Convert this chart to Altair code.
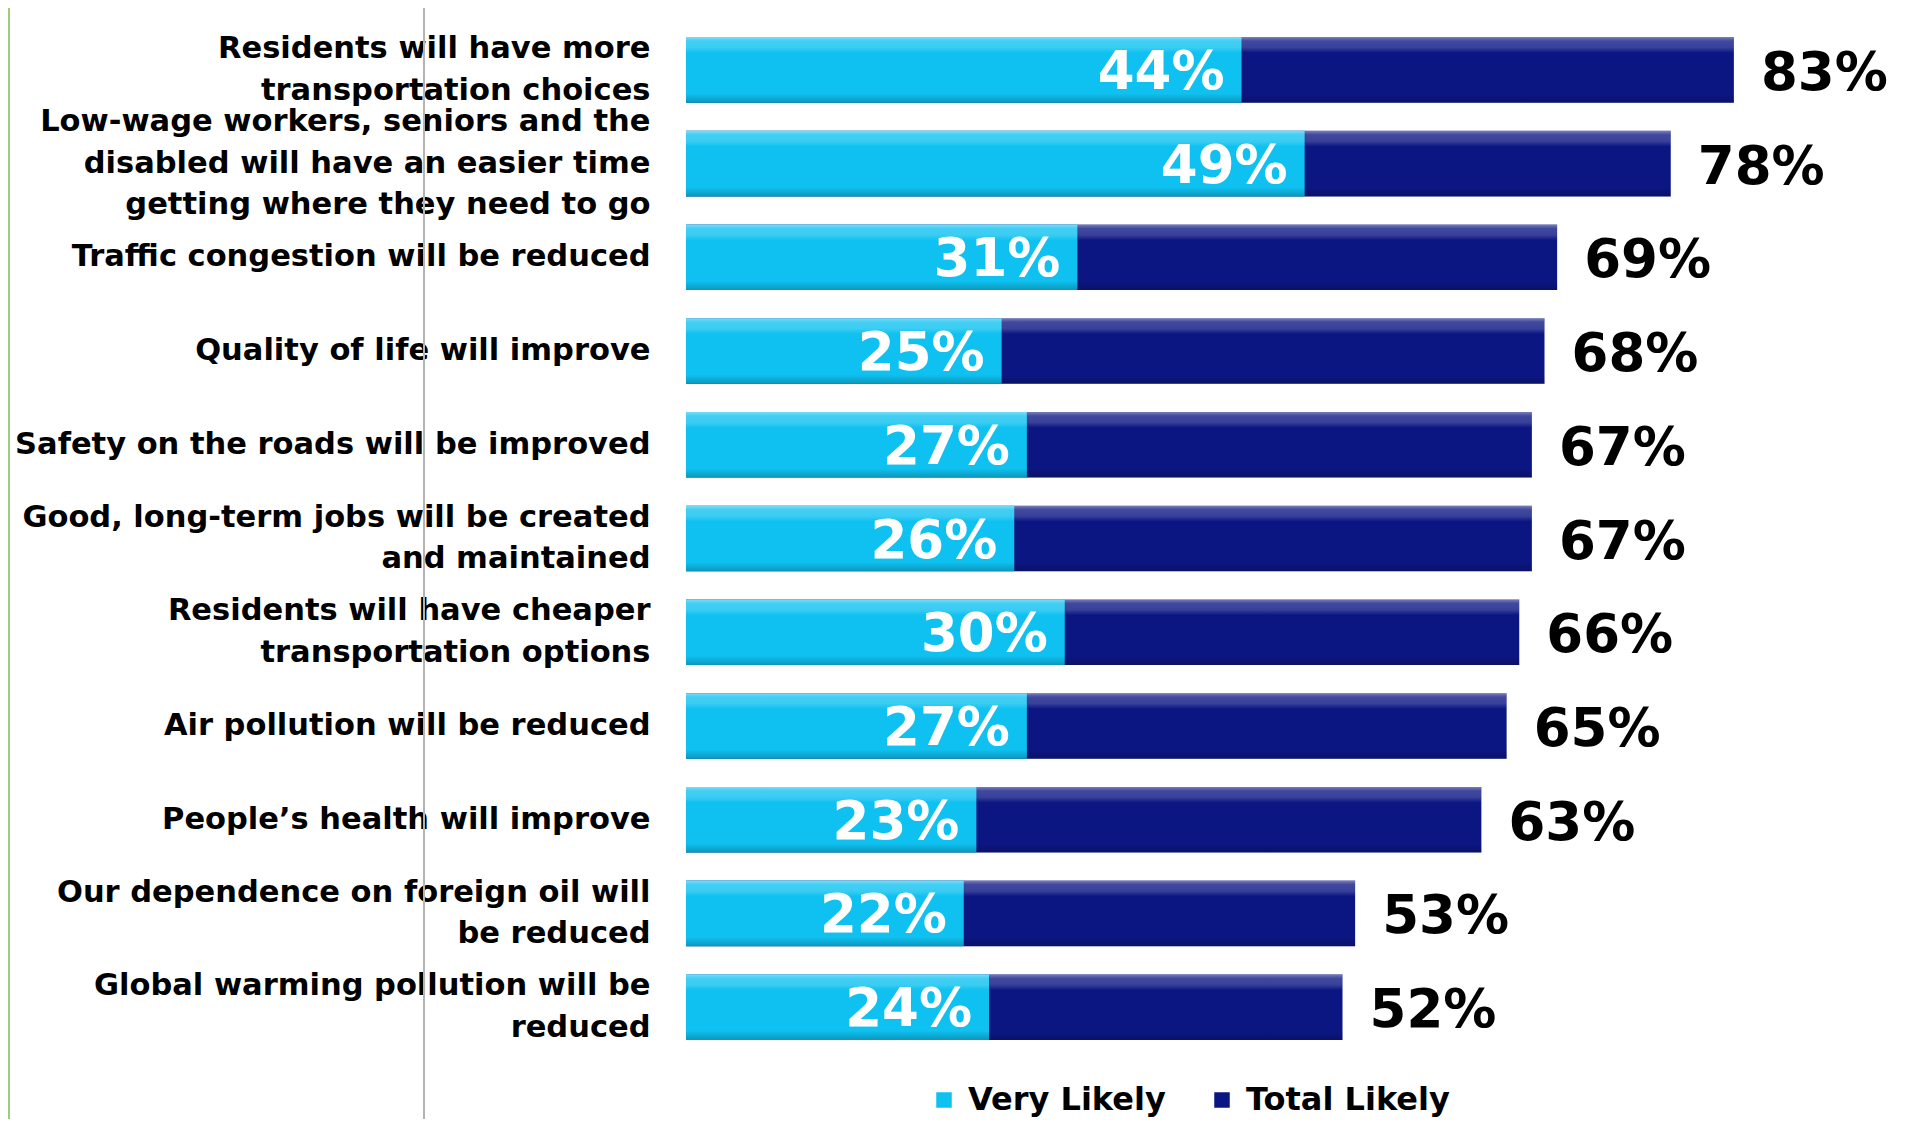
import altair as alt
import pandas as pd

categories = [
    "Residents will have more\ntransportation choices",
    "Low-wage workers, seniors and the\ndisabled will have an easier time\ngetting where they need to go",
    "Traffic congestion will be reduced",
    "Quality of life will improve",
    "Safety on the roads will be improved",
    "Good, long-term jobs will be created\nand maintained",
    "Residents will have cheaper\ntransportation options",
    "Air pollution will be reduced",
    "People\u2019s health will improve",
    "Our dependence on foreign oil will\nbe reduced",
    "Global warming pollution will be\nreduced",
]
very_likely = [44, 49, 31, 25, 27, 26, 30, 27, 23, 22, 24]
total_likely = [83, 78, 69, 68, 67, 67, 66, 65, 63, 53, 52]
series_names = ["Very Likely", "Total Likely"]
series_colors = ["#0fc1f0", "#0c1683"]

df = pd.DataFrame({"category": categories, "very": very_likely, "total": total_likely})

FONT = "DejaVu Sans"
LINE_H = 41.5

y_enc = alt.Y(
    "category:N",
    sort=categories,
    scale=alt.Scale(paddingInner=0.3, paddingOuter=0.15),
    axis=alt.Axis(
        title=None,
        domain=False,
        ticks=False,
        grid=False,
        labelExpr="split(datum.label, '\\n')",
        labelLineHeight=LINE_H,
        labelOffset={"expr": f"-(length(split(datum.label, '\\n')) - 1) * {LINE_H} / 2"},
        labelFontSize=30.5,
        labelFont=FONT,
        labelFontWeight="bold",
        labelColor="black",
        labelAlign="right",
        labelBaseline="middle",
        labelPadding=36,
        labelLimit=800,
    ),
)
x_scale = alt.Scale(domain=[0, 96], nice=False)
x_axis = None

color_scale = alt.Scale(domain=series_names, range=series_colors)
legend = alt.Legend(
    title=None,
    orient="none",
    legendX=242,
    legendY=1061,
    direction="horizontal",
    symbolType="square",
    symbolSize=240,
    symbolStrokeWidth=0,
    symbolOpacity=1,
    labelFontSize=32,
    labelFont=FONT,
    labelFontWeight="bold",
    labelColor="black",
    labelOffset=8,
    columnPadding=40,
    labelLimit=400,
)

base = alt.Chart(df)

dark = base.transform_calculate(series="'Total Likely'").mark_bar().encode(
    y=y_enc,
    x=alt.X("total:Q", scale=x_scale, axis=x_axis),
    color=alt.Color("series:N", scale=color_scale, legend=legend),
)
light = base.transform_calculate(series="'Very Likely'").mark_bar().encode(
    y=y_enc,
    x=alt.X("very:Q", scale=x_scale, axis=x_axis),
    color=alt.Color("series:N", scale=color_scale, legend=legend),
)

shine = alt.Gradient(
    gradient="linear",
    x1=0, x2=0, y1=0, y2=1,
    stops=[
        alt.GradientStop(color="rgba(255,255,255,0.45)", offset=0),
        alt.GradientStop(color="rgba(255,255,255,0.22)", offset=0.06),
        alt.GradientStop(color="rgba(255,255,255,0.18)", offset=0.16),
        alt.GradientStop(color="rgba(255,255,255,0)", offset=0.24),
        alt.GradientStop(color="rgba(0,0,0,0)", offset=0.86),
        alt.GradientStop(color="rgba(0,0,0,0.22)", offset=1),
    ],
)
overlay = base.mark_bar(color=shine).encode(
    y=y_enc,
    x=alt.X("total:Q", scale=x_scale, axis=x_axis),
)

very_text = base.transform_calculate(lbl="datum.very + '%'").mark_text(
    align="right", baseline="middle", dx=-17, dy=3, color="white",
    fontSize=53, font=FONT, fontWeight="bold",
).encode(y=y_enc, x=alt.X("very:Q", scale=x_scale, axis=x_axis), text="lbl:N")

total_text = base.transform_calculate(lbl="datum.total + '%'").mark_text(
    align="left", baseline="middle", dx=27, dy=4, color="black",
    fontSize=53, font=FONT, fontWeight="bold",
).encode(y=y_enc, x=alt.X("total:Q", scale=x_scale, axis=x_axis), text="lbl:N")

deco = alt.Chart(alt.Data(values=[{"k": 1}]))
grey_line = deco.mark_rule(color="#b4b4b4", strokeWidth=2).encode(
    x=alt.value(-262), y=alt.value(-16), y2=alt.value(1100)
)
green_line = deco.mark_rule(color="#9ccc7c", strokeWidth=2).encode(
    x=alt.value(-677), y=alt.value(-16), y2=alt.value(1100)
)

chart = (
    alt.layer(grey_line, green_line, dark, light, overlay, very_text, total_text)
    .properties(
        width=1212,
        height=1031,
        autosize=alt.AutoSizeParams(type="none"),
        padding={"left": 678, "top": 15, "right": 0, "bottom": 65},
        background="white",
    )
    .configure_view(stroke=None)
)

chart.save("out.html", embed_options={"renderer": "svg", "actions": False})
